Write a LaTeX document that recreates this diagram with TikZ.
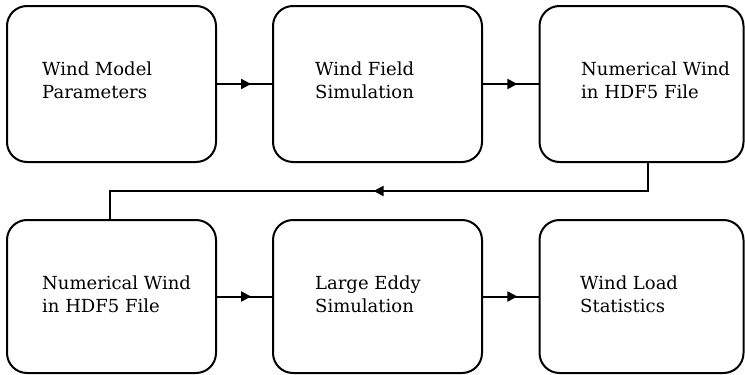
\documentclass[tikz,border=0pt]{standalone}
\usepackage{fontspec}
\setmainfont{DejaVu Serif}
\usetikzlibrary{arrows.meta,decorations.markings}
\tikzset{
  box/.style={draw=black, line width=2pt, rounded corners=20pt, minimum width=209pt, minimum height=156pt, inner sep=0pt},
  lbl/.style={anchor=west, align=left, inner sep=0pt, font=\fontsize{18}{23}\selectfont},
  conn/.style={line width=2pt, postaction={decorate}, decoration={markings, mark=at position #1 with {\arrow{Triangle[length=10pt,width=10pt]}}}}
}
\begin{document}
\begin{tikzpicture}[x=1pt,y=-1pt]
\useasboundingbox (0,0) rectangle (745,375);
\node[box] (b1) at (111.5,84) {};
\node[box] (b2) at (377.5,84) {};
\node[box, minimum width=204pt] (b3) at (641.5,84) {};
\node[box, minimum height=153pt] (b4) at (111.5,296.5) {};
\node[box, minimum height=153pt] (b5) at (377.5,296.5) {};
\node[box, minimum width=204pt, minimum height=153pt] (b6) at (641.5,296.5) {};
\node[lbl] (t1) at (42,80) {Wind Model\\Parameters};
\node[lbl] (t2) at (315,80) {Wind Field\\Simulation};
\node[lbl] (t3) at (581,80) {Numerical Wind\\in HDF5 File};
\node[lbl] (t4) at (42,294) {Numerical Wind\\in HDF5 File};
\node[lbl] (t5) at (315,294) {Large Eddy\\Simulation};
\node[lbl] (t6) at (580,294) {Wind Load\\Statistics};
\draw[conn=0.62] (b1.east) -- (b2.west);
\draw[conn=0.62] (b2.east) -- (b3.west);
\draw[conn=0.62] (b4.east) -- (b5.west);
\draw[conn=0.62] (b5.east) -- (b6.west);
\coordinate (f1) at (648,162);
\coordinate (f2) at (648,191);
\coordinate (f3) at (110,191);
\draw[conn=0.51] (f1) -- (f2) -- (f3) -- (b4.north -| f3);
\end{tikzpicture}
\end{document}
